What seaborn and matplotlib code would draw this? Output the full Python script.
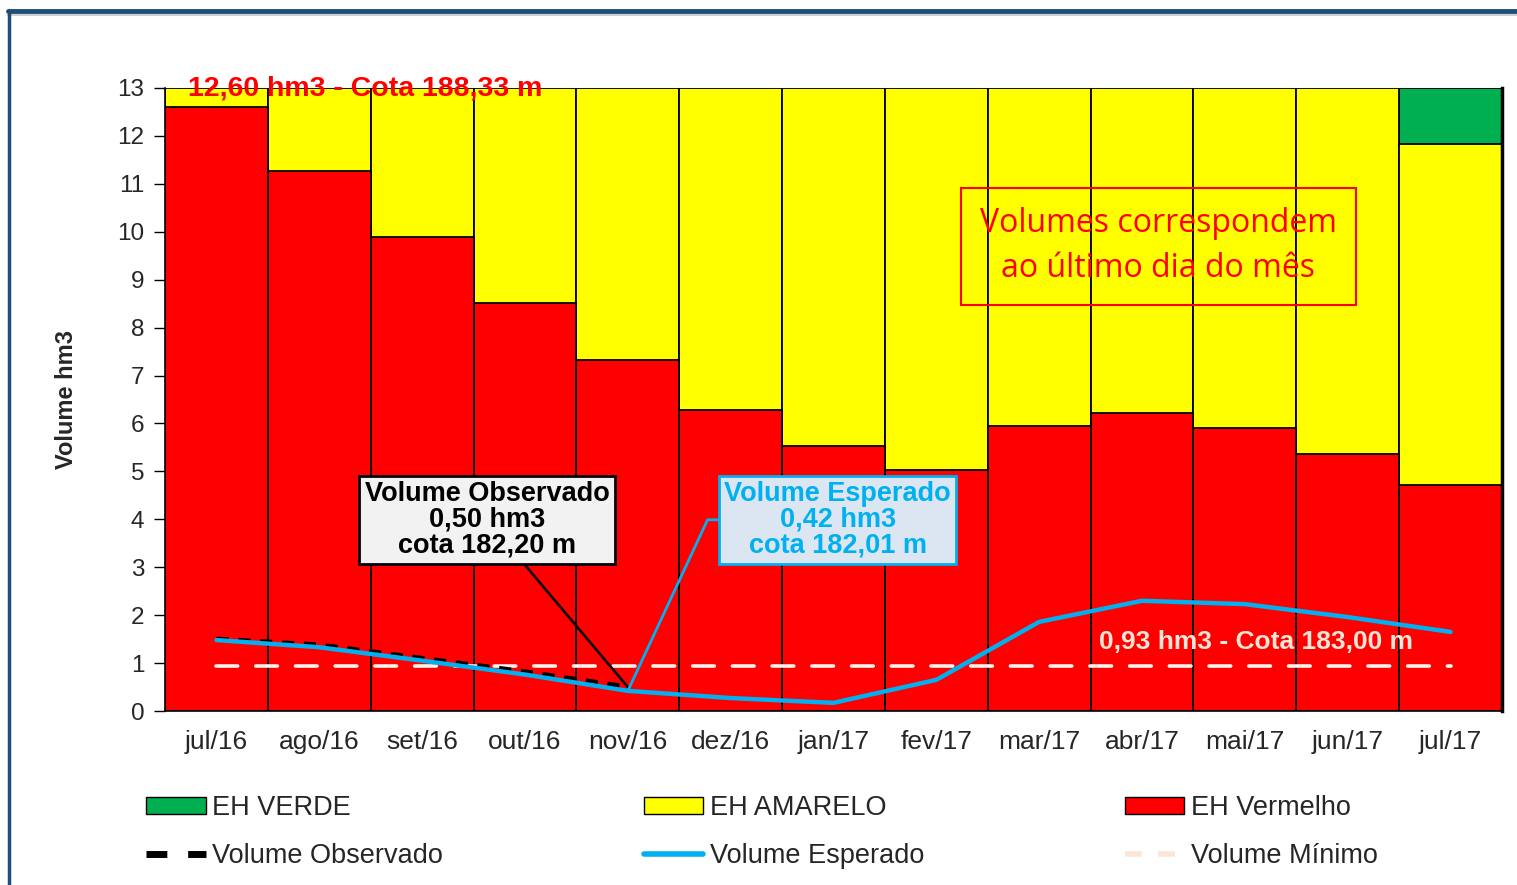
import matplotlib
matplotlib.use("Agg")
import matplotlib.pyplot as plt
from matplotlib.patches import Patch
from matplotlib.lines import Line2D
import numpy as np
import pandas as pd
import seaborn as sns

# ---------------- data ----------------
months = ['jul/16', 'ago/16', 'set/16', 'out/16', 'nov/16', 'dez/16', 'jan/17',
          'fev/17', 'mar/17', 'abr/17', 'mai/17', 'jun/17', 'jul/17']
vermelho = [12.60, 11.27, 9.89, 8.51, 7.32, 6.28, 5.53, 5.03, 5.95, 6.22, 5.91, 5.36, 4.72]
amarelo = [0.40, 1.73, 3.11, 4.49, 5.68, 6.72, 7.47, 7.97, 7.05, 6.78, 7.09, 7.64, 7.11]
verde = [0, 0, 0, 0, 0, 0, 0, 0, 0, 0, 0, 0, 1.17]
esperado = [1.48, 1.33, 1.05, 0.76, 0.42, 0.27, 0.17, 0.65, 1.86, 2.30, 2.23, 1.96, 1.65]
observado = [1.50, 1.38, 1.10, 0.82, 0.50]
minimo = [0.93, 0.93, 0.93, 0.93, 0.93, 0.93, 0.93, 0.93, 0.93, 0.93, 0.93, 0.93, 0.93]
yticks = list(range(0, 14))

legend_labels = ['EH VERDE', 'EH AMARELO', 'EH Vermelho',
                 'Volume Observado', 'Volume Esperado', 'Volume Mínimo']

RED = '#FF0000'
YEL = '#FFFF00'
GRN = '#00B050'
CYAN = '#00B0F0'
CREAM = '#FBE5D6'

sns.set_style('white')
plt.rcParams['font.family'] = ['Liberation Sans', 'DejaVu Sans']

fig = plt.figure(figsize=(15.17, 8.85), dpi=100)
ax = fig.add_axes([165 / 1517, 1 - 711 / 885, (1502 - 165) / 1517, (711 - 88) / 885])

df = pd.DataFrame({'mes': months, 'verm': vermelho, 'amar': amarelo, 'verde': verde})
df['top_amar'] = df['verm'] + df['amar']
df['top_verde'] = df['top_amar'] + df['verde']

for col, c in [('top_verde', GRN), ('top_amar', YEL), ('verm', RED)]:
    sns.barplot(data=df, x='mes', y=col, color=c, saturation=1, width=1.0,
                edgecolor='black', linewidth=1.3, ax=ax, order=months)

idx = np.arange(len(months))
sns.lineplot(x=idx, y=minimo, color='#FFF4EC', linewidth=2.6,
             linestyle=(0, (6, 5)), dash_capstyle='round', ax=ax, zorder=4)
sns.lineplot(x=idx[:len(observado)], y=observado, color='black', linewidth=3.5,
             linestyle=(0, (2.5, 2)), ax=ax, zorder=5)
sns.lineplot(x=idx, y=esperado, color=CYAN, linewidth=3.2, ax=ax, zorder=6,
             solid_capstyle='round')

ax.set_xlim(-0.5, len(months) - 0.5)
ax.set_ylim(0, 13)
ax.set_yticks(yticks)
ax.set_yticklabels([str(v) for v in yticks], fontsize=17.5)
ax.set_xticks(idx)
ax.set_xticklabels(months, fontsize=19)
ax.set_xticks(np.arange(-0.5, len(months), 1.0), minor=True)
ax.tick_params(axis='x', which='major', length=0, pad=14)
ax.tick_params(axis='x', which='minor', length=9, width=1, color='black', direction='out')
ax.tick_params(axis='y', which='major', length=8, width=1, color='black', direction='out',
               left=True, pad=7)
ax.set_xlabel('')
ax.set_ylabel('Volume hm3', fontsize=17, fontweight='bold', labelpad=28)
for s in ['left', 'bottom']:
    ax.spines[s].set_color('black')
    ax.spines[s].set_linewidth(1.2)
ax.spines['top'].set_visible(False)
ax.spines['right'].set_color('black')
ax.spines['right'].set_linewidth(2.5)

# labels
ax.text(-0.28, 13.0, '12,60 hm3 - Cota 188,33 m', color=RED, fontsize=20.5,
        fontweight='bold', ha='left', va='center', zorder=8)
ax.text(10.11, 1.44, '0,93 hm3 - Cota 183,00 m', color=CREAM, fontsize=19,
        fontweight='bold', ha='center', va='center', zorder=8)

ax.text(9.16, 9.7, 'Volumes correspondem\nao último dia do mês', color=RED,
        fontsize=23, family=['Open Sans', 'DejaVu Sans'], ha='center', va='center',
        linespacing=1.5, zorder=8,
        bbox=dict(boxstyle='square,pad=0.6', facecolor='none', edgecolor=RED, linewidth=1.5))

ax.annotate('Volume Observado\n0,50 hm3\ncota 182,20 m', xy=(4, observado[4]),
            xytext=(2.63, 3.99), ha='center', va='center', fontsize=19.5,
            fontweight='bold', color='black', linespacing=0.98, zorder=9,
            bbox=dict(boxstyle='square,pad=0.2', facecolor='#F2F2F2', edgecolor='black', linewidth=2),
            arrowprops=dict(arrowstyle='-', color='black', linewidth=1.8, shrinkA=0, shrinkB=0))

ax.annotate('Volume Esperado\n0,42 hm3\ncota 182,01 m', xy=(4, esperado[4]),
            xytext=(6.04, 3.99), ha='center', va='center', fontsize=19.5,
            fontweight='bold', color=CYAN, linespacing=0.98, zorder=9,
            bbox=dict(boxstyle='square,pad=0.2', facecolor='#DCE6F2', edgecolor=CYAN, linewidth=2),
            arrowprops=dict(arrowstyle='-', color=CYAN, linewidth=2, shrinkA=0, shrinkB=0,
                            relpos=(0, 0.5),
                            connectionstyle='angle,angleA=180,angleB=65,rad=0'))

# legend
handles = [Patch(facecolor=GRN, edgecolor='black', linewidth=1),
           Line2D([], [], color='black', linewidth=5, linestyle=(0, (3, 3))),
           Patch(facecolor=YEL, edgecolor='black', linewidth=1),
           Line2D([], [], color=CYAN, linewidth=4),
           Patch(facecolor=RED, edgecolor='black', linewidth=1),
           Line2D([], [], color=CREAM, linewidth=4, linestyle=(0, (3, 3)))]
labels = [legend_labels[0], legend_labels[3], legend_labels[1], legend_labels[4],
          legend_labels[2], legend_labels[5]]
fig.legend(handles, labels, ncol=3, loc='upper left',
           bbox_to_anchor=(146 / 1517, 1 - 795 / 885), frameon=False,
           fontsize=19.5, handlelength=2.2, handleheight=0.55, handletextpad=0.25,
           columnspacing=7.4, labelspacing=0.82, borderaxespad=0, borderpad=0)

# frame around the panel
fig.add_artist(Line2D([8 / 1517, 1.0], [1 - 11 / 885, 1 - 11 / 885], color='#1F4E79',
                      linewidth=3.5, transform=fig.transFigure))
fig.add_artist(Line2D([8 / 1517, 1.0], [1 - 14.5 / 885, 1 - 14.5 / 885], color='#D0D0D0',
                      linewidth=1.5, transform=fig.transFigure))
fig.add_artist(Line2D([9 / 1517, 9 / 1517], [0, 1 - 10 / 885], color='#1F4E79',
                      linewidth=2.5, transform=fig.transFigure))

fig.savefig('out.png', dpi=100)
